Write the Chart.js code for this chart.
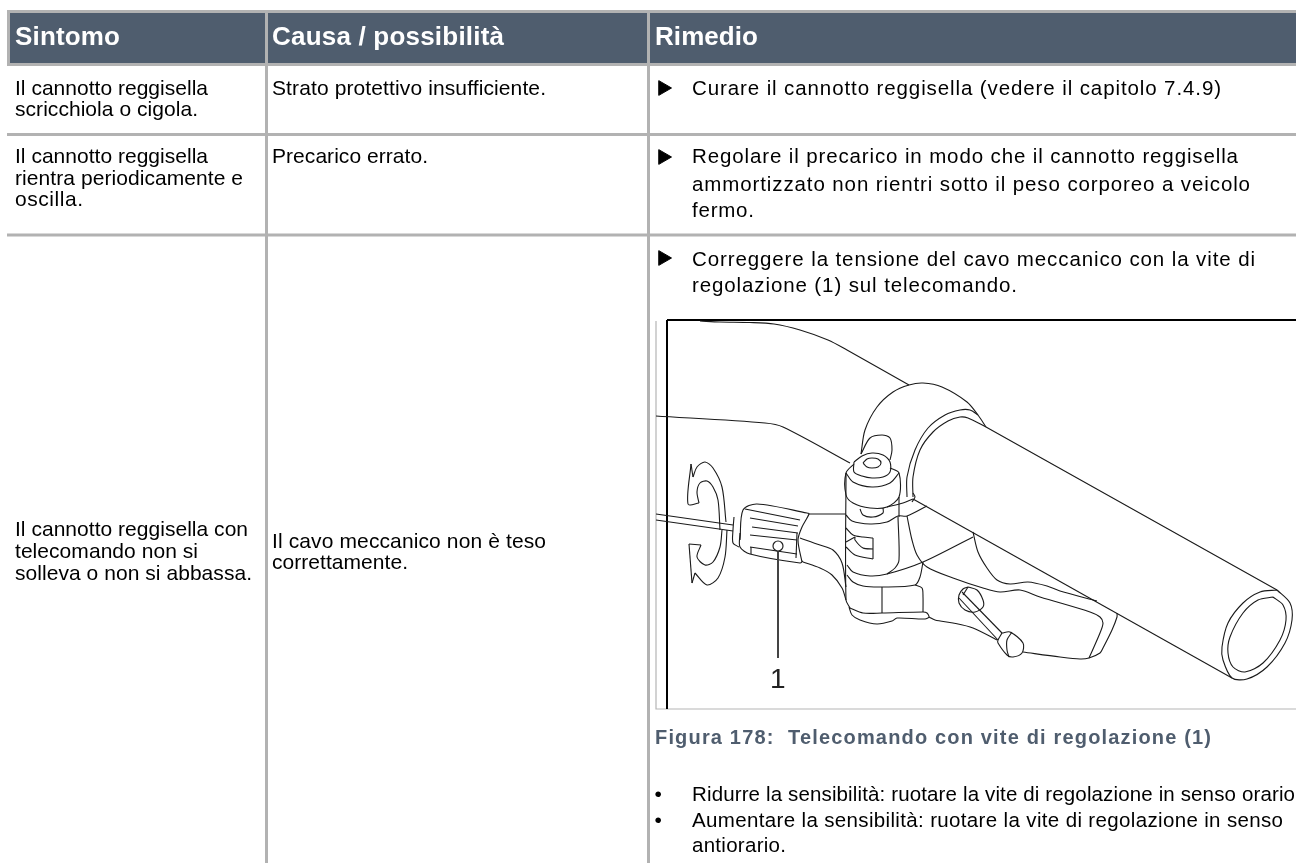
<!DOCTYPE html>
<html>
<head>
<meta charset="utf-8">
<title>Sintomo / Causa / Rimedio</title>
<script src="https://cdn.jsdelivr.net/npm/chart.js@4"></script>
<style>
  html, body { margin: 0; padding: 0; background: #fff; }
  canvas { display: block; }
</style>
</head>
<body>
<canvas id="chartContainer" width="1296" height="863"></canvas>
<script>
// table text: [string, left, baseline, right]
const headerTexts = [
  ['Sintomo', 15, 45, 120],
  ['Causa / possibilità', 272, 45, 504],
  ['Rimedio', 655, 45, 758]
];
const symptomTexts = [
  ['Il cannotto reggisella', 15, 95, 208],
  ['scricchiola o cigola.', 15, 116, 198],
  ['Il cannotto reggisella', 15, 163, 208],
  ['rientra periodicamente e', 15, 185, 243],
  ['oscilla.', 15, 206, 83],
  ['Il cannotto reggisella con', 15, 536, 248],
  ['telecomando non si', 15, 558, 198],
  ['solleva o non si abbassa.', 15, 580, 252]
];
const causeTexts = [
  ['Strato protettivo insufficiente.', 272, 95, 546],
  ['Precarico errato.', 272, 163, 428],
  ['Il cavo meccanico non è teso', 272, 548, 546],
  ['correttamente.', 272, 569, 408]
];
const remedyTexts = [
  ['Curare il cannotto reggisella (vedere il capitolo 7.4.9)', 692, 95, 1221],
  ['Regolare il precarico in modo che il cannotto reggisella', 692, 163, 1238],
  ['ammortizzato non rientri sotto il peso corporeo a veicolo', 692, 191, 1250],
  ['fermo.', 692, 217, 754],
  ['Correggere la tensione del cavo meccanico con la vite di', 692, 266, 1255],
  ['regolazione (1) sul telecomando.', 692, 292, 1017],
  ['Ridurre la sensibilità: ruotare la vite di regolazione in senso orario', 692, 801, 1295],
  ['Aumentare la sensibilità: ruotare la vite di regolazione in senso', 692, 827, 1283],
  ['antiorario.', 692, 852, 786]
];
const captionTexts = [['Figura 178:  Telecomando con vite di regolazione (1)', 655, 744, 1211]];
const dotTexts = [['•', 654.5, 801], ['•', 654.5, 827]];
const calloutTexts = [['1', 770, 688, 786]];

const triangleMarks = [[663, 88], [663, 157], [663, 258]];
const calloutMark = [[778, 546]];

// table rules
const grayRules = [
  [7, 11.5, 1296, 11.5], [8.5, 10, 8.5, 66], [7, 64.5, 1296, 64.5],
  [7, 134.5, 1296, 134.5], [7, 235, 1296, 235],
  [266.5, 10, 266.5, 863], [648.5, 10, 648.5, 863]
];
const headerBand = [10, 13, 1296, 63];

// drawing frame
const frameGray = [[656, 321, 656, 709, 1296, 709]];
const frameBlack = [[667, 320, 667, 709], [667, 320, 1296, 320]];

// handlebar tube
const tube = [
  [700, 321, 720, 322, 750, 322.5, 774, 324, 800, 330, 828, 340, 847, 350, 909, 385],
  [986, 427, 1277, 590],
  [913, 499, 1232, 678],
  [1277, 590, 1290, 603, 1292, 620, 1285, 643, 1267, 667, 1247, 679, 1232, 678, 1223, 660, 1222, 647, 1228, 623, 1243, 603, 1260, 592, 1277, 590],
  [1273, 597, 1283, 605, 1286, 620, 1280, 640, 1263, 663, 1245, 672, 1233, 667, 1228, 653, 1230, 637, 1243, 613, 1258, 600, 1273, 597]
];
// clamp
const clamp = [
  [861, 454, 865, 430, 877, 407, 893, 392, 909, 385, 923, 383, 942, 387, 967, 402, 978, 415, 986, 427],
  [907, 497, 907, 477, 915, 450, 928, 428, 945, 415, 960, 410, 970, 410, 978, 415],
  [913, 497, 913, 477, 920, 450, 933, 432, 948, 421, 960, 417, 968, 418, 986, 427],
  [913, 493, 915, 497, 912, 502],
  [861, 454, 870, 438, 882, 435, 890, 438, 892, 450, 890, 460],
  [863, 463, 867, 459, 872, 458, 878, 459, 881, 463, 878, 467, 872, 468, 867, 467, 863, 463],
  [854, 462, 862, 456, 872, 453, 883, 455, 890, 462, 890, 472, 883, 477, 872, 478, 862, 476, 854, 472, 854, 462],
  [854, 464, 846, 473, 846, 495, 853, 503, 870, 508, 887, 507, 899, 497, 899, 473, 890, 468],
  [846, 473, 853, 482, 872, 487, 890, 483, 899, 473],
  [860, 509, 863, 515, 873, 517, 883, 513, 883, 508],
  [887, 507, 903, 503, 913, 499],
  [899, 497, 899, 517]
];
// lever body
const lever = [
  [656, 416, 765, 423, 783, 427, 850, 463],
  [973, 532, 978, 552, 987, 568, 997, 580, 1010, 584, 1028, 582, 1047, 586, 1060, 591, 1097, 601],
  [907, 516, 912, 540, 917, 555, 927, 567, 953, 578, 983, 588, 1000, 592, 1020, 590, 1040, 597, 1090, 612, 1100, 617, 1103, 623, 1100, 633, 1089, 658],
  [973, 537, 923, 562, 887, 574, 870, 576, 853, 572, 847, 565],
  [898, 517, 899, 560, 895, 568, 887, 574],
  [923, 562, 920, 577, 915, 585, 882, 587, 863, 586, 853, 582, 847, 575],
  [915, 585, 922, 588, 923, 597, 923, 612],
  [882, 587, 882, 613],
  [850, 608, 863, 613, 882, 613, 923, 612, 927, 613, 929, 617, 925, 619, 897, 618, 892, 621, 877, 624, 860, 620, 852, 615, 849, 607],
  [846, 473, 846, 600, 850, 608],
  [929, 617, 935, 620, 953, 623, 973, 628, 997, 640],
  [1023, 652, 1060, 657, 1080, 659, 1089, 658, 1100, 653, 1103, 648, 1112, 630, 1117, 617, 1117, 613],
  [846, 528, 853, 535, 863, 537, 873, 538],
  [873, 538, 873, 559],
  [846, 542, 855, 537],
  [855, 537, 855, 540, 863, 548, 873, 549],
  [846, 547, 855, 555, 873, 559],
  [846, 515, 852, 521, 870, 524, 887, 522, 898, 516, 907, 516, 927, 506],
  [800, 538, 820, 545, 833, 550, 842, 563, 846, 587],
  [803, 562, 820, 568, 832, 575, 842, 588, 846, 600]
];
// brake pin
const pin = [
  [968, 587, 977, 590, 983, 600, 983, 607, 975, 612, 965, 610, 959, 603, 959, 595, 963, 589, 968, 587],
  [962, 592, 1002, 633],
  [959, 598, 998, 640],
  [968, 587, 963, 595],
  [1002, 633, 1010, 632, 1023, 643, 1022, 653, 1013, 657, 1007, 655, 998, 643, 998, 640, 1002, 633],
  [1012, 632, 1007, 640, 1007, 650, 1009, 657]
];
// turning arrows
const arrows = [
  [691, 464, 688, 504, 699, 503],
  [699, 503, 697, 492, 700, 483, 707, 481, 713, 487, 718, 500, 720, 530],
  [691, 464, 693, 477],
  [693, 477, 697, 467, 705, 462, 713, 468, 722, 487, 726, 522],
  [689, 544, 701, 545],
  [701, 545, 697, 557, 705, 565, 713, 562, 720, 547, 722, 530],
  [689, 544, 692, 583],
  [692, 583, 695, 573],
  [695, 573, 707, 585, 718, 578, 725, 557, 727, 530]
];
// cable and adjusting knob
const knob = [
  [809, 514, 846, 514],
  [656, 514, 733, 525],
  [656, 520, 733, 531],
  [740, 540, 743, 510, 757, 504, 807, 513, 809, 514, 802, 527, 798, 540, 802, 562],
  [745, 509, 800, 520],
  [750, 518, 798, 526],
  [752, 527, 798, 533],
  [750, 535, 797, 540],
  [740, 533, 740, 547, 750, 554, 800, 563, 803, 561],
  [750, 547, 797, 554],
  [751, 547, 751, 554],
  [797, 533, 796, 558],
  [734, 517, 733, 530, 733, 543, 739, 547]
];
const leader = [[778, 551, 778, 658]];

function toPoints(flat) {
  const pts = [];
  for (let i = 0; i < flat.length; i += 2) {
    pts.push({ x: flat[i], y: flat[i + 1] });
  }
  return pts;
}

function lineSet(flat, color, width, tension) {
  return {
    data: toPoints(flat),
    showLine: true,
    borderColor: color,
    borderWidth: width,
    tension: tension,
    pointRadius: 0,
    fill: false
  };
}

function markSet(marks, style, rotation, radius, bg, border, borderW) {
  return {
    data: marks.map(m => ({ x: m[0], y: m[1] })),
    showLine: false,
    pointStyle: style,
    rotation: rotation,
    pointRadius: radius,
    pointBackgroundColor: bg,
    pointBorderColor: border,
    pointBorderWidth: borderW
  };
}

const datasets = [];
// first dataset ends up on top
datasets.push(markSet(calloutMark, 'circle', 0, 5, '#fff', '#222', 1.2));
datasets.push(markSet(triangleMarks, 'triangle', 90, 8.5, '#000', '#000', 1));
leader.forEach(s => datasets.push(lineSet(s, '#444', 2, 0)));
[tube, clamp, lever, pin, arrows, knob].forEach(group => {
  group.forEach(s => datasets.push(lineSet(s, '#1a1a1a', 1.1, 0.3)));
});
frameBlack.forEach(s => datasets.push(lineSet(s, '#000', 2, 0)));
frameGray.forEach(s => datasets.push(lineSet(s, '#b5b5b5', 1.2, 0)));
grayRules.forEach(s => datasets.push(lineSet(s, '#b2b2b2', 3, 0)));
datasets.push({
  data: toPoints([headerBand[0], headerBand[1], headerBand[2], headerBand[1]]),
  showLine: true,
  borderWidth: 0,
  pointRadius: 0,
  backgroundColor: '#4f5d6e',
  fill: { value: headerBand[3] }
});

// texts go through the scales too, stretched to the width
const tablePlugin = {
  id: 'tableText',
  afterDatasetsDraw(chart) {
    const ctx = chart.ctx;
    const sx = chart.scales.x;
    const sy = chart.scales.y;
    function put(list, font, color) {
      ctx.save();
      ctx.font = font;
      ctx.fillStyle = color;
      ctx.textBaseline = 'alphabetic';
      list.forEach(t => {
        ctx.letterSpacing = '0px';
        if (t.length > 3) {
          const w = ctx.measureText(t[0]).width;
          const room = sx.getPixelForValue(t[3]) - sx.getPixelForValue(t[1]);
          ctx.letterSpacing = ((room - w) / Math.max(1, t[0].length - 1)).toFixed(3) + 'px';
        }
        ctx.fillText(t[0], sx.getPixelForValue(t[1]), sy.getPixelForValue(t[2]));
      });
      ctx.restore();
    }
    const face = '"Liberation Sans", Arial, sans-serif';
    put(headerTexts, 'bold 26px ' + face, '#ffffff');
    put(symptomTexts, '21px ' + face, '#000');
    put(causeTexts, '21px ' + face, '#000');
    put(remedyTexts, '20.5px ' + face, '#000');
    put(captionTexts, 'bold 20px ' + face, '#4f5d6e');
    put(dotTexts, '21px ' + face, '#000');
    put(calloutTexts, '28px ' + face, '#222');
  }
};

new Chart(document.getElementById('chartContainer').getContext('2d'), {
  type: 'scatter',
  data: { datasets: datasets },
  options: {
    responsive: false,
    animation: false,
    layout: { padding: 0, autoPadding: false },
    plugins: { legend: { display: false }, tooltip: { enabled: false }, title: { display: false } },
    scales: {
      x: { type: 'linear', min: 0, max: 1296, display: false },
      y: { type: 'linear', min: 0, max: 863, reverse: true, display: false }
    }
  },
  plugins: [tablePlugin]
});
</script>
</body>
</html>
